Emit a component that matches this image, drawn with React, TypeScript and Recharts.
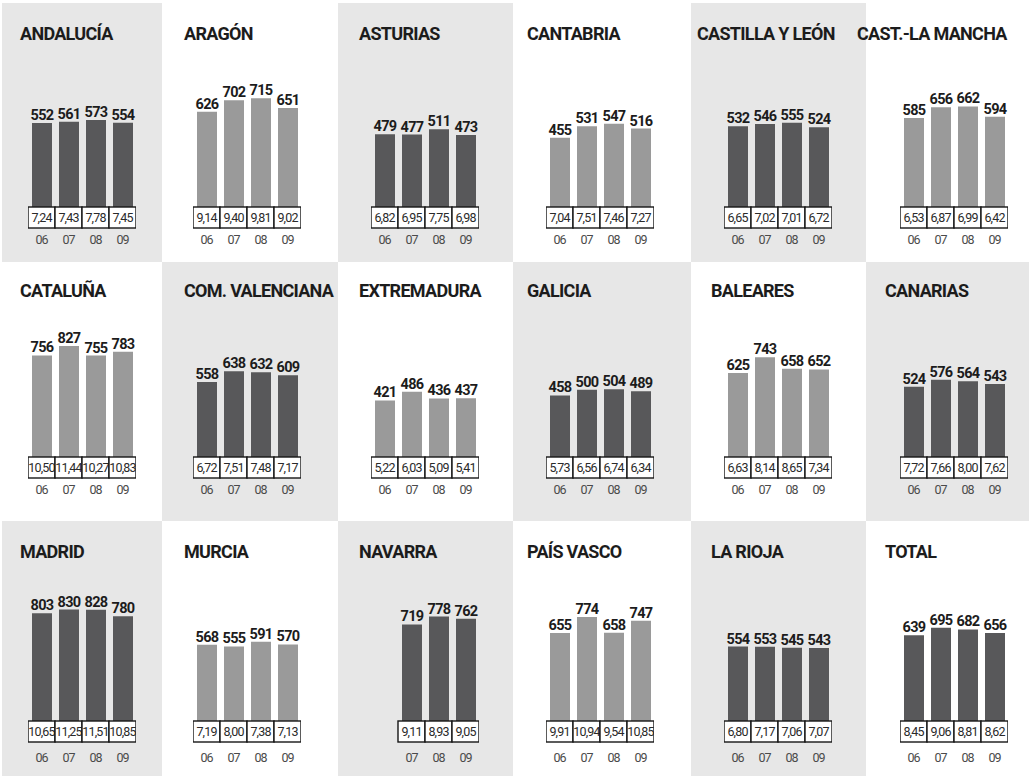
import { BarChart, Bar, XAxis, YAxis, LabelList } from "recharts"

const YEARS = ["06", "07", "08", "09"]

const REGIONS = [
  "ANDALUCÍA", "ARAGÓN", "ASTURIAS", "CANTABRIA", "CASTILLA Y LEÓN", "CAST.-LA MANCHA",
  "CATALUÑA", "COM. VALENCIANA", "EXTREMADURA", "GALICIA", "BALEARES", "CANARIAS",
  "MADRID", "MURCIA", "NAVARRA", "PAÍS VASCO", "LA RIOJA", "TOTAL",
]

// valor de las barras, por región y año
const GASTO: (number | null)[][] = [
  [552, 561, 573, 554],
  [626, 702, 715, 651],
  [479, 477, 511, 473],
  [455, 531, 547, 516],
  [532, 546, 555, 524],
  [585, 656, 662, 594],
  [756, 827, 755, 783],
  [558, 638, 632, 609],
  [421, 486, 436, 437],
  [458, 500, 504, 489],
  [625, 743, 658, 652],
  [524, 576, 564, 543],
  [803, 830, 828, 780],
  [568, 555, 591, 570],
  [null, 719, 778, 762],
  [655, 774, 658, 747],
  [554, 553, 545, 543],
  [639, 695, 682, 656],
]

// valor de las casillas bajo cada barra
const CASILLAS: (number | null)[][] = [
  [7.24, 7.43, 7.78, 7.45],
  [9.14, 9.4, 9.81, 9.02],
  [6.82, 6.95, 7.75, 6.98],
  [7.04, 7.51, 7.46, 7.27],
  [6.65, 7.02, 7.01, 6.72],
  [6.53, 6.87, 6.99, 6.42],
  [10.5, 11.44, 10.27, 10.83],
  [6.72, 7.51, 7.48, 7.17],
  [5.22, 6.03, 5.09, 5.41],
  [5.73, 6.56, 6.74, 6.34],
  [6.63, 8.14, 8.65, 7.34],
  [7.72, 7.66, 8.0, 7.62],
  [10.65, 11.25, 11.51, 10.85],
  [7.19, 8.0, 7.38, 7.13],
  [null, 9.11, 8.93, 9.05],
  [9.91, 10.94, 9.54, 10.85],
  [6.8, 7.17, 7.06, 7.07],
  [8.45, 9.06, 8.81, 8.62],
]

// estilo: barra oscura o clara
const DARK = [
  true, false, true, false, true, false,
  false, true, false, true, false, true,
  true, false, true, false, true, true,
]

// layout
const COL_X = [2, 162, 338, 513, 691, 866, 1029]
const ROW_Y = [3, 262, 521, 776]
const BOX_X = [28, 193, 371, 546, 724, 900]
const BOX_TOP = [207, 457, 721]
const TITLE_BASE = [40, 297, 558]
const YEAR_GAP = [11, 11, 15]
const Y_MAX = [987, 1117, 1117]
const TITLE_X = [20, 184, 359, 527, 711, 885]
const TITLE_X_OVERRIDE: Record<number, number> = { 4: 697, 5: 857 }

const PLOT_H = 150
const SLOT = 27
const BOX_H = 21
const FONT = "Roboto, 'Noto Sans', sans-serif"

const fmt = (v: number) => v.toFixed(2).replace(".", ",")

function Casilla(props: any) {
  const { x, y, payload, values, gap } = props
  const i = YEARS.indexOf(payload.value)
  const v = values[i]
  if (v == null) return null
  return (
    <g>
      <rect
        x={x - SLOT / 2}
        y={y}
        width={SLOT}
        height={BOX_H}
        fill="#fff"
        stroke="#161616"
        strokeWidth={1.4}
      />
      <text
        x={x}
        y={y + 14.8}
        textAnchor="middle"
        fontFamily={FONT}
        fontSize={12.5}
        letterSpacing={-0.85}
        fill="#2a2a2a"
      >
        {fmt(v)}
      </text>
      <text
        x={x}
        y={y + BOX_H + gap + 4.5}
        textAnchor="middle"
        fontFamily={FONT}
        fontSize={12.5}
        letterSpacing={-1}
        fill="#4a4a4a"
      >
        {payload.value}
      </text>
    </g>
  )
}

function Panel({ idx }: { idx: number }) {
  const row = Math.floor(idx / 6)
  const col = idx % 6
  const data = YEARS.map((y, i) => ({ year: y, v: GASTO[idx][i] }))
  const gray = (row + col) % 2 === 0
  const left = COL_X[col]
  const top = ROW_Y[row]
  const titleX = row === 0 && TITLE_X_OVERRIDE[col] != null ? TITLE_X_OVERRIDE[col] : TITLE_X[col]

  return (
    <>
      <div
        style={{
          position: "absolute",
          left,
          top,
          width: COL_X[col + 1] - left,
          height: ROW_Y[row + 1] - top,
          background: gray ? "#e7e7e7" : "#ffffff",
        }}
      />
      <div
        style={{
          position: "absolute",
          left: titleX,
          top: TITLE_BASE[row] - 15,
          fontFamily: FONT,
          fontWeight: 700,
          fontSize: 18,
          lineHeight: "18px",
          letterSpacing: -0.7,
          color: "#1c1c1c",
          whiteSpace: "nowrap",
        }}
      >
        {REGIONS[idx]}
      </div>
      <div style={{ position: "absolute", left: BOX_X[col], top: BOX_TOP[row] - PLOT_H }}>
        <BarChart
          width={SLOT * 4}
          height={PLOT_H + 45}
          data={data}
          margin={{ top: 0, right: 0, bottom: 0, left: 0 }}
        >
          <XAxis
            dataKey="year"
            axisLine={false}
            tickLine={false}
            tickSize={0}
            tickMargin={0}
            interval={0}
            height={45}
            tick={(p: any) => <Casilla {...p} values={CASILLAS[idx]} gap={YEAR_GAP[row]} />}
          />
          <YAxis hide domain={[0, Y_MAX[row]]} />
          <Bar
            dataKey="v"
            barSize={20}
            fill={DARK[idx] ? "#58585a" : "#9a9a9a"}
            isAnimationActive={false}
          >
            <LabelList
              dataKey="v"
              position="top"
              offset={3}
              fontFamily={FONT}
              fontWeight={700}
              fontSize={14.5}
              letterSpacing={-0.6}
              fill="#1c1c1c"
            />
          </Bar>
        </BarChart>
      </div>
    </>
  )
}

export default function App() {
  return (
    <div
      style={{
        position: "absolute",
        left: 0,
        top: 0,
        width: 1029,
        height: 776,
        background: "#fff",
        overflow: "hidden",
      }}
    >
      {REGIONS.map((_, i) => (
        <Panel key={i} idx={i} />
      ))}
    </div>
  )
}
